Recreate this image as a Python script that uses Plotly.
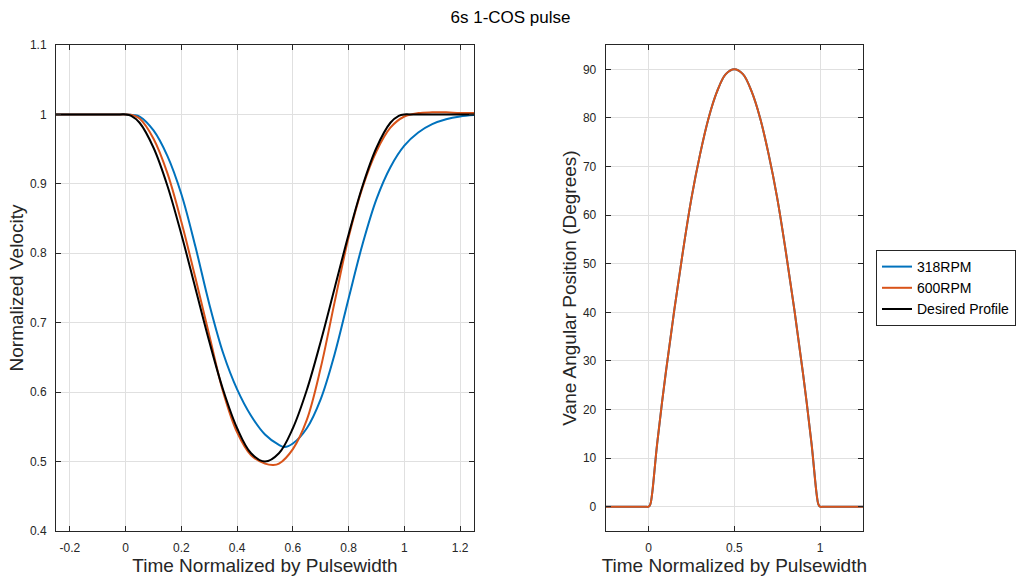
import plotly.graph_objects as go

# ---------------- data ----------------
# Left panel: normalized velocity vs normalized time
t_desired = [-0.25, -0.02, 0.0, 0.02, 0.05, 0.10, 0.15, 0.20, 0.25, 0.30, 0.35, 0.40, 0.45, 0.50,
             0.55, 0.60, 0.65, 0.70, 0.75, 0.80, 0.85, 0.90, 0.95, 0.98, 1.0, 1.02, 1.25]
v_desired = [1.0, 1.0, 1.0, 0.998, 0.988, 0.952, 0.897, 0.827, 0.75, 0.673, 0.603, 0.548, 0.512, 0.50,
             0.512, 0.548, 0.603, 0.673, 0.75, 0.827, 0.897, 0.952, 0.988, 0.998, 1.0, 1.0, 1.0]

t_600 = [-0.25, -0.02, 0.0, 0.025, 0.05, 0.10, 0.15, 0.20, 0.25, 0.30, 0.35, 0.40, 0.45, 0.50,
         0.53, 0.55, 0.60, 0.65, 0.70, 0.75, 0.80, 0.85, 0.90, 0.95, 1.0, 1.05, 1.10,
         1.15, 1.20, 1.25]
v_600 = [1.0, 1.0, 1.0, 0.999, 0.994, 0.965, 0.915, 0.845, 0.765, 0.682, 0.600, 0.542, 0.509, 0.497,
         0.495, 0.497, 0.518, 0.56, 0.635, 0.73, 0.823, 0.895, 0.947, 0.981, 0.997, 1.002, 1.003,
         1.003, 1.002, 1.002]

t_318 = [-0.25, -0.02, 0.0, 0.03, 0.05, 0.10, 0.15, 0.20, 0.25, 0.30, 0.35, 0.40, 0.45, 0.50,
         0.55, 0.57, 0.60, 0.65, 0.70, 0.75, 0.80, 0.85, 0.90, 0.95, 1.0, 1.05, 1.10,
         1.15, 1.20, 1.25]
v_318 = [1.0, 1.0, 1.0, 0.999, 0.997, 0.977, 0.94, 0.885, 0.81, 0.727, 0.656, 0.604, 0.566, 0.539,
         0.524, 0.521, 0.526, 0.548, 0.59, 0.655, 0.735, 0.813, 0.878, 0.924, 0.955, 0.974, 0.986,
         0.993, 0.997, 0.999]

# Right panel: vane angular position (degrees)
t_angle = [-0.25, -0.02, 0.0, 0.01, 0.02, 0.05, 0.10, 0.15, 0.20, 0.25, 0.30, 0.35, 0.40, 0.45, 0.50,
           0.55, 0.60, 0.65, 0.70, 0.75, 0.80, 0.85, 0.90, 0.95, 0.98, 0.99, 1.0, 1.02, 1.25]
angle_318 = [0, 0, 0, 0.5, 2.5, 13, 27.5, 40.5, 52.5, 63.5, 72.5, 80, 85.5, 89, 90,
             89, 85.5, 80, 72.5, 63.5, 52.5, 40.5, 27.5, 13, 2.5, 0.5, 0, 0, 0]
angle_600 = [0, 0, 0, 0.5, 2.5, 13, 27.5, 40.5, 52.5, 63.5, 72.5, 80, 85.5, 89, 90,
             89, 85.5, 80, 72.5, 63.5, 52.5, 40.5, 27.5, 13, 2.5, 0.5, 0, 0, 0]

left_xticks = [-0.2, 0, 0.2, 0.4, 0.6, 0.8, 1, 1.2]
left_xtext = ["-0.2", "0", "0.2", "0.4", "0.6", "0.8", "1", "1.2"]
left_yticks = [0.4, 0.5, 0.6, 0.7, 0.8, 0.9, 1.0, 1.1]
left_ytext = ["0.4", "0.5", "0.6", "0.7", "0.8", "0.9", "1", "1.1"]
right_xticks = [0, 0.5, 1]
right_xtext = ["0", "0.5", "1"]
right_yticks = [0, 10, 20, 30, 40, 50, 60, 70, 80, 90]

BLUE = "#0072BD"
ORANGE = "#D95319"
BLACK = "#000000"
AX = "#262626"
GRID = "#e0e0e0"
FONT = "Liberation Sans, Arial, sans-serif"

fig = go.Figure()

line_kw = dict(shape="spline", smoothing=1.0)
fig.add_trace(go.Scatter(x=t_318, y=v_318, mode="lines", name="318RPM",
                         line=dict(color=BLUE, width=2, **line_kw), xaxis="x", yaxis="y"))
fig.add_trace(go.Scatter(x=t_600, y=v_600, mode="lines", name="600RPM",
                         line=dict(color=ORANGE, width=2, **line_kw), xaxis="x", yaxis="y"))
fig.add_trace(go.Scatter(x=t_desired, y=v_desired, mode="lines", name="Desired Profile",
                         line=dict(color=BLACK, width=2, **line_kw), xaxis="x", yaxis="y"))

fig.add_trace(go.Scatter(x=t_angle, y=angle_318, mode="lines", name="318RPM", showlegend=False,
                         line=dict(color=BLUE, width=2, **line_kw), xaxis="x2", yaxis="y2"))
fig.add_trace(go.Scatter(x=t_angle, y=angle_600, mode="lines", name="600RPM", showlegend=False,
                         line=dict(color=ORANGE, width=2, **line_kw), xaxis="x2", yaxis="y2"))

W, H = 1021, 578
ydom = [1 - 531 / H, 1 - 45 / H]

common = dict(showline=True, linecolor=AX, linewidth=1, mirror="ticks", ticks="inside",
              ticklen=5, tickcolor=AX, showgrid=True, gridcolor=GRID, gridwidth=1,
              zeroline=False, tickfont=dict(size=12, color=AX, family=FONT),
              automargin=False)
title_font = dict(size=19, color=AX, family=FONT)

fig.update_layout(
    width=W, height=H,
    margin=dict(l=0, r=0, t=0, b=0),
    paper_bgcolor="white", plot_bgcolor="white",
    font=dict(family=FONT, color=AX),
    title=dict(text="6s 1-COS pulse", x=0.5, xanchor="center", y=1 - 17 / H, yanchor="middle",
               font=dict(size=17, color="#000000", family=FONT)),
    xaxis=dict(domain=[56 / W, 474 / W], range=[-0.25, 1.25], tickvals=left_xticks,
               ticktext=left_xtext, anchor="y", ticklabelstandoff=6,
               title=dict(text="Time Normalized by Pulsewidth", standoff=4, font=title_font),
               **common),
    yaxis=dict(domain=ydom, range=[0.4, 1.1], tickvals=left_yticks, ticktext=left_ytext,
               anchor="x", ticklabelstandoff=6,
               title=dict(text="Normalized Velocity", standoff=1, font=title_font), **common),
    xaxis2=dict(domain=[605.7 / W, 863 / W], range=[-0.25, 1.25], tickvals=right_xticks,
                ticktext=right_xtext, anchor="y2", ticklabelstandoff=6,
                title=dict(text="Time Normalized by Pulsewidth", standoff=4, font=title_font),
                **common),
    yaxis2=dict(domain=ydom, range=[-5, 95], tickvals=right_yticks, anchor="x2",
                ticklabelstandoff=6,
                title=dict(text="Vane Angular Position (Degrees)", standoff=1, font=title_font),
                **common),
    legend=dict(x=876 / W, xanchor="left", y=1 - 288 / H, yanchor="middle",
                bordercolor=AX, borderwidth=1, bgcolor="white",
                font=dict(size=14, color="#000000", family=FONT),
                tracegroupgap=0, itemwidth=30),
    showlegend=True,
)

fig.write_html("out.html")
